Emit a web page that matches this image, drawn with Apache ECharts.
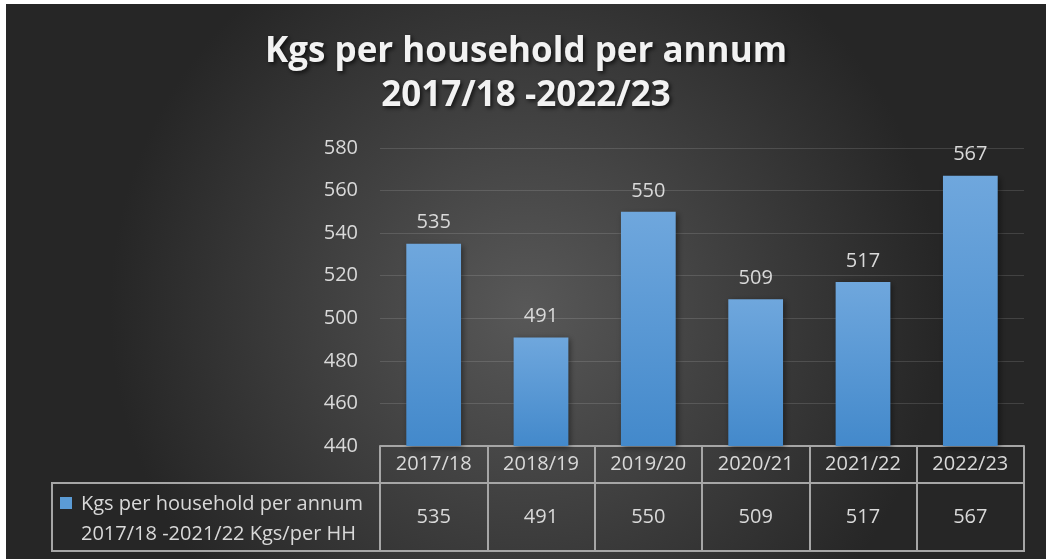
<!DOCTYPE html>
<html>
<head>
<meta charset="utf-8">
<script src="https://cdn.jsdelivr.net/npm/echarts@6/dist/echarts.min.js"></script>
<style>
	html, body { margin: 0; padding: 0; background: #fff; }
	#chart { position: absolute; left: 6px; top: 4px; width: 1040px; height: 555px; }
</style>
</head>
<body>
<div id="chart"></div>
<script>
// data
var categories = ['2017/18', '2018/19', '2019/20', '2020/21', '2021/22', '2022/23']
var kgsPerHH = [535, 491, 550, 509, 517, 567]
var seriesName = 'Kgs per household per annum\n2017/18 -2021/22 Kgs/per HH'
var yTicks = { min: 440, max: 580, step: 20 }

var FONT = '"Open Sans"'
var TXT = '#d9d9d9'
var LINE = '#a6a6a6'

// table geometry (chart px)
var gridLeft = 374, gridRight = 22, gridTop = 144, gridBottom = 113
var H = 555
var headerH = 37
var rowBottom = 547
var legendLeft = 46

var chart = echarts.init(document.getElementById('chart'))

chart.setOption({
	backgroundColor: {
		type: 'radial', x: 0.5, y: 0.55, r: 0.75,
		colorStops: [
			{ offset: 0, color: '#585858' },
			{ offset: 1, color: '#262626' }
		]
	},
	title: {
		text: 'Kgs per household per annum\n2017/18 -2022/23',
		left: 'center',
		top: 26,
		padding: [0, 0, 0, 14],
		textStyle: {
			color: '#f2f2f2',
			fontFamily: FONT,
			fontWeight: 'bold',
			fontSize: 35,
			lineHeight: 44,
			textShadowColor: 'rgba(0,0,0,0.7)',
			textShadowBlur: 4,
			textShadowOffsetX: 2,
			textShadowOffsetY: 2
		}
	},
	grid: {
		left: gridLeft,
		right: gridRight,
		top: gridTop,
		bottom: gridBottom,
		containLabel: false
	},
	xAxis: [
		{
			type: 'category',
			data: categories,
			axisLine: { show: true, lineStyle: { color: LINE, width: 2 } },
			axisTick: { show: true, interval: 0, length: headerH, lineStyle: { color: LINE, width: 2 } },
			axisLabel: { color: TXT, fontFamily: FONT, fontSize: 20, margin: 8, interval: 0 }
		},
		{
			type: 'category',
			data: kgsPerHH.map(String),
			position: 'bottom',
			offset: headerH,
			axisLine: { show: true, lineStyle: { color: LINE, width: 2 } },
			axisTick: { show: true, interval: 0, length: rowBottom - (H - gridBottom + headerH), lineStyle: { color: LINE, width: 2 } },
			axisLabel: { color: TXT, fontFamily: FONT, fontSize: 20, margin: 24, interval: 0 }
		}
	],
	yAxis: {
		type: 'value',
		min: yTicks.min,
		max: yTicks.max,
		interval: yTicks.step,
		axisLine: { show: false },
		axisTick: { show: false },
		axisLabel: { color: TXT, fontFamily: FONT, fontSize: 20, margin: 22 },
		splitLine: { lineStyle: { color: 'rgba(255,255,255,0.13)', width: 1 } }
	},
	series: [{
		name: seriesName,
		type: 'bar',
		barWidth: '51%',
		data: kgsPerHH,
		itemStyle: {
			color: {
				type: 'linear', x: 0, y: 0, x2: 0, y2: 1,
				colorStops: [
					{ offset: 0, color: '#6fa7dd' },
					{ offset: 1, color: '#4389cb' }
				]
			},
			shadowColor: 'rgba(0,0,0,0.45)',
			shadowBlur: 6,
			shadowOffsetX: 2,
			shadowOffsetY: 2
		},
		label: {
			show: true,
			position: 'top',
			distance: 11,
			color: TXT,
			fontFamily: FONT,
			fontSize: 20
		}
	}],
	graphic: [
		// data row frame + legend cell
		{
			type: 'rect',
			shape: { x: legendLeft, y: H - gridBottom + headerH, width: 1040 - gridRight - legendLeft, height: rowBottom - (H - gridBottom + headerH) },
			style: { fill: null, stroke: LINE, lineWidth: 2 },
			silent: true
		},
		{
			type: 'rect',
			shape: { x: 54, y: 493, width: 12, height: 12 },
			style: { fill: '#5b9bd5' }
		},
		{
			type: 'text',
			x: 75,
			y: 515,
			style: {
				text: seriesName,
				fill: TXT,
				font: '20px ' + FONT,
				lineHeight: 30,
				verticalAlign: 'middle'
			}
		}
	]
})
</script>
</body>
</html>
